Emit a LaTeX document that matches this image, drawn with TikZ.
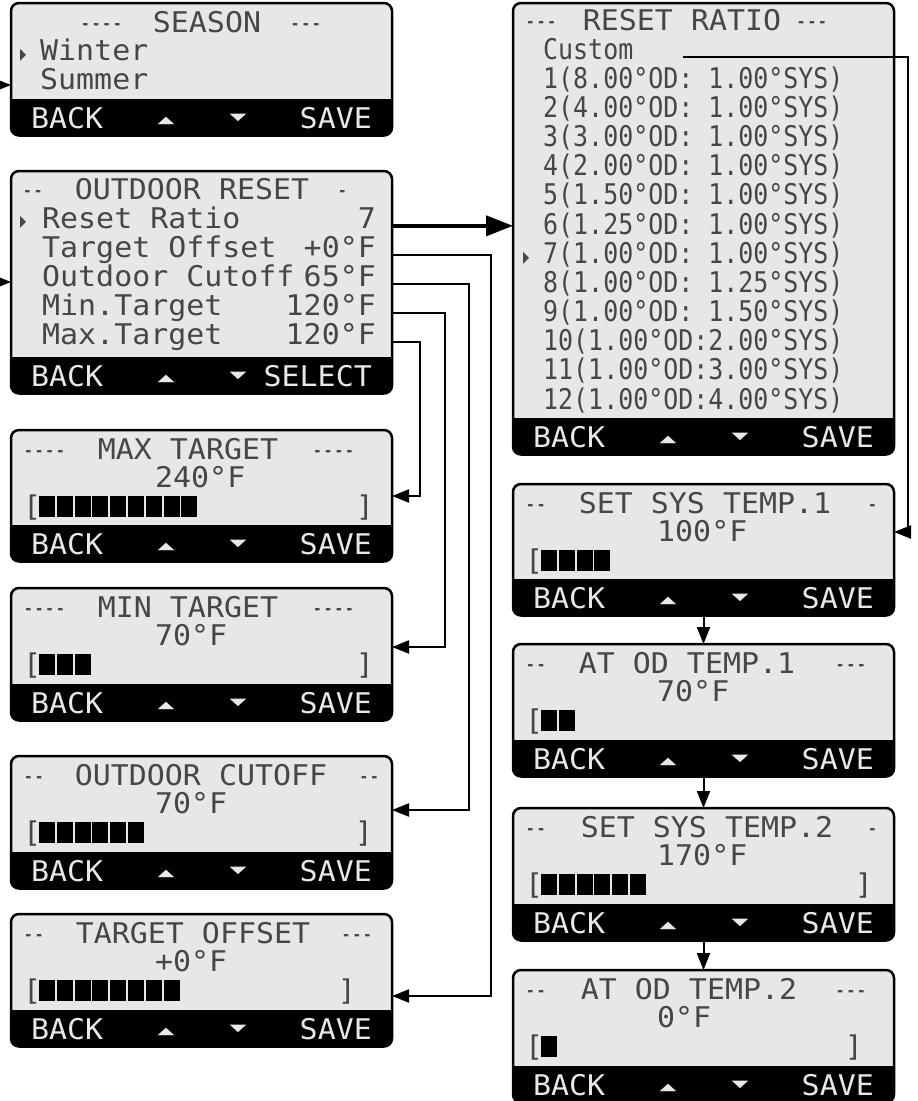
\documentclass[tikz,border=0pt]{standalone}
\usepackage{fontspec}
\usepackage{graphicx}
\usetikzlibrary{arrows.meta, calc, positioning}
\newfontfamily\lcdfam{DejaVu Sans Mono}[FakeStretch=1.05, Ligatures=TeXOff]
\newfontfamily\lcdnarrow{DejaVu Sans Mono}[FakeStretch=0.875, Ligatures=TeXOff]
\newfontfamily\lcddash{DejaVu Sans Mono}[FakeStretch=0.62, Ligatures=TeXOff]
\newfontfamily\lcdsym{DejaVu Sans}
\definecolor{lcdgray}{RGB}{230,231,232}
\definecolor{lcdink}{RGB}{70,70,70}
\definecolor{lcdlite}{RGB}{232,232,232}

\begin{document}
\begin{tikzpicture}[
    x=1pt, y=-1pt,
    screen/.style={draw=black, line width=2.5pt, rounded corners=8pt, fill=lcdgray,
                   minimum width=381pt, inner sep=0pt, outer sep=0pt,
                   path picture={\fill[black, sharp corners]
                       ($(path picture bounding box.south west)+(0,-36.5)$)
                       rectangle (path picture bounding box.south east);}},
    txt/.style={font=\fontsize{28.5}{30}\lcdfam, text=lcdink, inner sep=0pt, anchor=base west},
    rowtxt/.style={txt, font=\fontsize{28.5}{30}\lcdnarrow},
    dashtxt/.style={txt, font=\fontsize{28.5}{30}\lcddash},
    bartxt/.style={txt, text=lcdlite},
    ptr/.style={txt, font=\fontsize{16}{16}\lcdsym},
    keysym/.style={bartxt, anchor=base, font=\fontsize{22}{22}\lcdsym},
    blk/.style={fill=black},
    arr/.style={-{Triangle[length=17pt, width=13pt]}, line width=2pt},
    bigarr/.style={-{Triangle[length=27pt, width=20pt]}, line width=4pt}
]
\useasboundingbox (0,0) rectangle (918,1101);

% Left column: menus on top, value screens below
\node[screen, minimum height=132.5pt, anchor=north west] (season) at (11,3) {};
\node[screen, minimum height=222.5pt, below=35.5pt of season] (orst) {};
\node[screen, minimum height=131.5pt, below=36.5pt of orst] (maxt) {};
\node[screen, minimum height=132.5pt, below=26.5pt of maxt] (mint) {};
\node[screen, minimum height=132.5pt, below=35.5pt of mint] (cutoff) {};
\node[screen, minimum height=132.5pt, below=25.5pt of cutoff] (toff) {};
% Right column: ratio list and the custom curve points
\node[screen, minimum height=451.5pt, anchor=north west] (ratio) at (513,3) {};
\node[screen, minimum height=131.5pt, below=29.5pt of ratio] (sys1) {};
\node[screen, minimum height=132.5pt, below=28.5pt of sys1] (od1) {};
\node[screen, minimum height=132.5pt, below=31.5pt of od1] (sys2) {};
\node[screen, minimum height=132.5pt, below=29.5pt of sys2] (od2) {};

% Soft key bar, same on every screen
\foreach \s/\ok in {season/SAVE, orst/SELECT, maxt/SAVE, mint/SAVE, cutoff/SAVE, toff/SAVE,
                    ratio/SAVE, sys1/SAVE, od1/SAVE, sys2/SAVE, od2/SAVE} {
  \node[bartxt] (\s-back) at ($(\s.south west)+(20,-7)$) {BACK};
  \node[keysym] (\s-up) at ($(\s.south west)+(155,-12)$) {\scalebox{1}[0.45]{▲}};
  \node[keysym] (\s-dn) at ($(\s.south west)+(227,-15)$) {\scalebox{1}[0.45]{▼}};
  \node[bartxt, anchor=base east] (\s-ok) at ($(\s.south west)+(361,-7)$) {\ok};
}

% Season menu
\node[dashtxt] (season-l) at ($(season.north west)+(69,29)$) {----};
\node[txt, anchor=base] (season-t) at ($(season.north west)+(196,29)$) {SEASON};
\node[dashtxt, anchor=base east] (season-r) at ($(season.north west)+(311,29)$) {---};
\node[ptr] (season-p) at ($(season.north west)+(9,56)$) {\scalebox{0.5}[1]{▶}};
\node[txt] (season-winter) at ($(season.north west)+(29,57)$) {Winter};
\node[txt] (season-summer) at ($(season.north west)+(29,86)$) {Summer};

% Outdoor reset menu
\node[dashtxt] (orst-l) at ($(orst.north west)+(11,28)$) {--};
\node[txt, anchor=base] (orst-t) at ($(orst.north west)+(181,28)$) {OUTDOOR RESET};
\node[dashtxt, anchor=base east] (orst-r) at ($(orst.north west)+(337,28)$) {-};
\node[ptr] (orst-p) at ($(orst.north west)+(9,55)$) {\scalebox{0.5}[1]{▶}};
\foreach \lab/\val/\nm [count=\i] in {Reset Ratio/7/ratio, Target Offset/+0°F/offset,
    Outdoor Cutoff/65°F/cutoff, Min.Target/120°F/min, Max.Target/120°F/max} {
  \node[txt] (orst-\nm-l) at ($(orst.north west)+(31,28+29*\i)$) {\lab};
  \node[txt, anchor=base east] (orst-\nm) at ($(orst.north west)+(365,28+29*\i)$) {\val};
}

% Reset ratio list
\node[dashtxt] (ratio-l) at ($(ratio.north west)+(12,27)$) {---};
\node[txt, anchor=base] (ratio-t) at ($(ratio.north west)+(169,27)$) {RESET RATIO};
\node[dashtxt, anchor=base east] (ratio-r) at ($(ratio.north west)+(315,27)$) {---};
\node[rowtxt] (ratio-custom) at ($(ratio.north west)+(30,56)$) {Custom};
\foreach \r [count=\i] in {1(8.00°OD: 1.00°SYS), 2(4.00°OD: 1.00°SYS), 3(3.00°OD: 1.00°SYS),
    4(2.00°OD: 1.00°SYS), 5(1.50°OD: 1.00°SYS), 6(1.25°OD: 1.00°SYS), 7(1.00°OD: 1.00°SYS),
    8(1.00°OD: 1.25°SYS), 9(1.00°OD: 1.50°SYS), 10(1.00°OD:2.00°SYS), 11(1.00°OD:3.00°SYS),
    12(1.00°OD:4.00°SYS)}
  \node[rowtxt] (ratio-\i) at ($(ratio.north west)+(30,56+29.17*\i)$) {\r};
\node[ptr] (ratio-p) at ($(ratio.north west)+(10,56+29.17*7-1)$) {\scalebox{0.5}[1]{▶}};

% Value screens: title, value and bar graph
\foreach \s/\ld/\t/\tx/\rd/\rx/\v/\n in {
    maxt/----/MAX TARGET/177/----/344/240°F/9,
    mint/----/MIN TARGET/177/----/344/70°F/3,
    cutoff/--/OUTDOOR CUTOFF/190/--/369/70°F/6,
    toff/--/TARGET OFFSET/182/---/362/+0°F/8,
    sys1/--/SET SYS TEMP.1/192/-/365/100°F/4,
    od1/--/AT OD TEMP.1/174/---/354/70°F/2,
    sys2/--/SET SYS TEMP.2/194/-/365/170°F/6,
    od2/--/AT OD TEMP.2/176/---/354/0°F/1} {
  \node[dashtxt] (\s-l) at ($(\s.north west)+(12,29)$) {\ld};
  \node[txt, anchor=base] (\s-t) at ($(\s.north west)+(\tx,29)$) {\t};
  \node[dashtxt, anchor=base east] (\s-r) at ($(\s.north west)+(\rx,29)$) {\rd};
  \node[txt] (\s-v) at ($(\s.north west)+(144,57)$) {\v};
  \node[txt] (\s-lb) at ($(\s.north west)+(12,86)$) {[};
  \foreach \k in {1,...,\n}
    \fill[blk] ($(\s.north west)+(10.2+17.8*\k,66)$) rectangle ++(16,21);
}
\foreach \s/\x in {maxt/363, mint/363, cutoff/362, toff/345, sys2/360, od2/350}
  \node[txt, anchor=base east] (\s-rb) at ($(\s.north west)+(\x,86)$) {]};

% Entry arrows coming in from the left
\coordinate (seasonIn) at (-20,85);
\coordinate (orstIn) at (-20,282);
\draw[arr] (seasonIn) -- (seasonIn -| season.west);
\draw[arr] (orstIn) -- (orstIn -| orst.west);

% Menu items to their screens
\draw[bigarr] (orst-ratio.mid east -| orst.east) -- (orst-ratio.mid east -| ratio.west);
\coordinate (maxtIn) at ($(maxt.north east)+(0,66)$);
\coordinate (mintIn) at ($(mint.north east)+(0,59)$);
\coordinate (cutoffIn) at ($(cutoff.north east)+(0,54)$);
\coordinate (toffIn) at ($(toff.north east)+(0,82)$);
\draw[arr] (orst-max.mid east -| orst.east) -- ++(28,0) |- (maxtIn);
\draw[arr] (orst-min.mid east -| orst.east) -- ++(53,0) |- (mintIn);
\draw[arr] (orst-cutoff.mid east -| orst.east) -- ++(77,0) |- (cutoffIn);
\draw[arr] (orst-offset.mid east -| orst.east) -- ++(99,0) |- (toffIn);

% Custom ratio steps
\coordinate (custOut) at ($(ratio-custom.mid east)+(50,0)$);
\coordinate (sys1In) at ($(sys1.north east)+(0,48)$);
\draw[arr] (custOut) -| ([xshift=14pt]sys1In) -- (sys1In);
\draw[arr] (sys1.south) -- (od1.north);
\draw[arr] (od1.south) -- (sys2.north);
\draw[arr] (sys2.south) -- (od2.north);
\end{tikzpicture}
\end{document}
